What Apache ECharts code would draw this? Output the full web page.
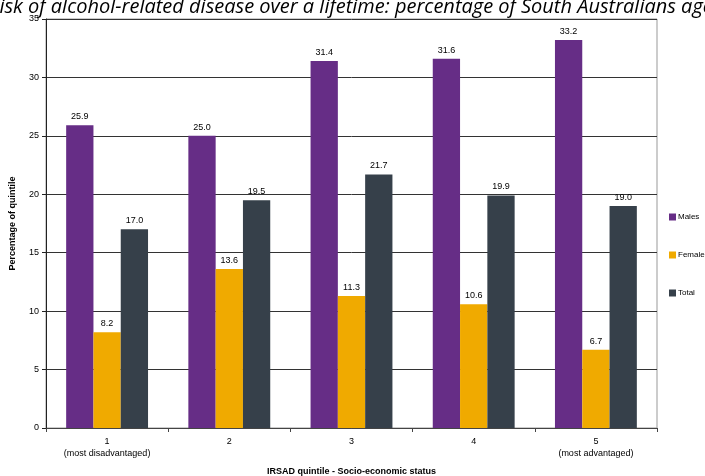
<!DOCTYPE html>
<html><head><meta charset="utf-8">
<script src="https://cdn.jsdelivr.net/npm/echarts@6/dist/echarts.min.js"></script>
<style>html,body{margin:0;padding:0;background:#fff}#c{width:705px;height:476px}</style>
</head><body><div id="c"></div>
<script>
const categories = ['1\n(most disadvantaged)', '2', '3', '4', '5\n(most advantaged)'];
const males = [25.9, 25.0, 31.4, 31.6, 33.2];
const females = [8.2, 13.6, 11.3, 10.6, 6.7];
const total = [17.0, 19.5, 21.7, 19.9, 19.0];
const seriesNames = ['Males', 'Females', 'Total'];
const colors = ['#662d86', '#f0aa00', '#36404a'];

const chart = echarts.init(document.getElementById('c'), null, {renderer: 'canvas'});
const lbl = {show: true, position: 'top', distance: 4, color: '#000', fontFamily: 'Liberation Sans', fontSize: 9, formatter: p => p.value.toFixed(1)};
chart.setOption({
  animation: false,
  title: {
    text: 'Risk of alcohol-related disease over a lifetime: percentage of South Australians aged',
    left: -12, top: -3, padding: 0,
    textStyle: {fontFamily: 'Open Sans', fontStyle: 'italic', fontWeight: 'normal', fontSize: 20, color: '#000'}
  },
  legend: {
    orient: 'vertical', left: 664, top: 208, itemGap: 30,
    itemWidth: 7, itemHeight: 7, icon: 'rect',
    textStyle: {fontFamily: 'Liberation Sans', fontSize: 8, color: '#000', padding: [0, 0, 0, -3]},
    data: seriesNames
  },
  grid: {left: 46, right: 48, top: 19, bottom: 48, containLabel: false, outerBoundsMode: 'none', show: true, borderColor: '#999', borderWidth: 1},
  xAxis: {
    type: 'category', data: categories,
    name: 'IRSAD quintile - Socio-economic status', nameLocation: 'middle', nameGap: 39,
    nameTextStyle: {fontFamily: 'Liberation Sans', fontSize: 9, fontWeight: 'bold', color: '#000'},
    axisLine: {lineStyle: {color: '#444', width: 1}},
    axisTick: {show: true, length: 4, lineStyle: {color: '#444'}},
    axisLabel: {fontFamily: 'Liberation Sans', fontSize: 9, color: '#000', lineHeight: 12, margin: 8}
  },
  yAxis: {
    type: 'value', min: 0, max: 35, interval: 5,
    name: 'Percentage of quintile', nameLocation: 'middle', nameGap: 29,
    nameTextStyle: {fontFamily: 'Liberation Sans', fontSize: 9, fontWeight: 'bold', color: '#000'},
    axisLine: {show: true, lineStyle: {color: '#222', width: 1}},
    axisTick: {show: true, length: 4, lineStyle: {color: '#222'}},
    axisLabel: {fontFamily: 'Liberation Sans', fontSize: 9, color: '#000', margin: 7},
    splitLine: {lineStyle: {color: '#333', width: 1}}
  },
  series: [
    {name: seriesNames[0], type: 'bar', data: males, itemStyle: {color: colors[0]}, label: lbl, barGap: '0%', barCategoryGap: '33%'},
    {name: seriesNames[1], type: 'bar', data: females, itemStyle: {color: colors[1]}, label: lbl, barGap: '0%', barCategoryGap: '33%'},
    {name: seriesNames[2], type: 'bar', data: total, itemStyle: {color: colors[2]}, label: lbl, barGap: '0%', barCategoryGap: '33%'}
  ]
});
</script></body></html>
